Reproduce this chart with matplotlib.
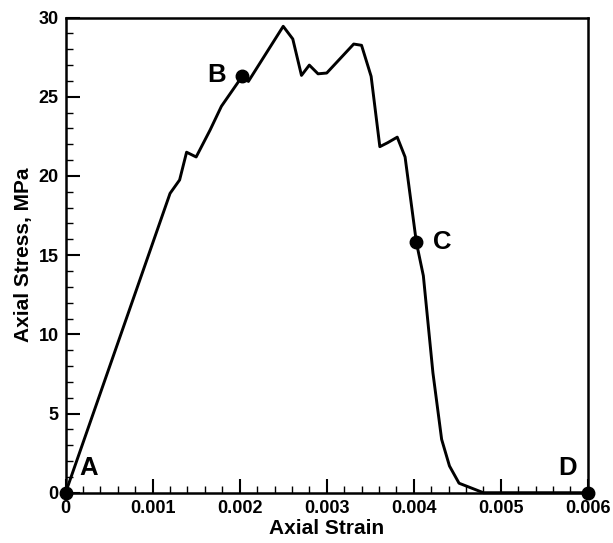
import numpy as np
import matplotlib
matplotlib.use('Agg')
import matplotlib.pyplot as plt
from matplotlib.ticker import MultipleLocator, FuncFormatter

# stress-strain curve
strain = [0, 0.0012, 0.00131, 0.00139, 0.0015, 0.00166, 0.00179, 0.00203, 0.0021,
          0.0025, 0.00261, 0.00271, 0.0028, 0.0029, 0.003, 0.00331, 0.0034, 0.00351,
          0.00361, 0.0037, 0.00381, 0.0039, 0.00403, 0.00411, 0.00422, 0.00432,
          0.00441, 0.00452, 0.0048, 0.006]
stress = [0, 18.9, 19.75, 21.5, 21.2, 22.9, 24.4, 26.3, 25.97,
          29.45, 28.65, 26.35, 27.0, 26.45, 26.5, 28.33, 28.25, 26.29,
          21.85, 22.1, 22.45, 21.2, 15.8, 13.7, 7.57, 3.37,
          1.69, 0.6, 0, 0]

# marked states
pt_names = ['A', 'B', 'C', 'D']
pt_strain = [0, 0.00203, 0.00403, 0.006]
pt_stress = [0, 26.3, 15.8, 0]

plt.rcParams['font.family'] = ['Liberation Sans', 'DejaVu Sans']
plt.rcParams['font.weight'] = 'bold'

fig = plt.figure(figsize=(6.13, 5.43), dpi=100)
ax = fig.add_axes([0.107, 0.0926, 0.852, 0.875])

ax.plot(strain, stress, color='black', lw=2.1, clip_on=False, zorder=3)
ax.plot(pt_strain, pt_stress, 'o', color='black', ms=9, clip_on=False, zorder=4)

# letter labels next to the points
offs = {'A': (10, 9, 'left'), 'B': (-12, 1, 'right'), 'C': (12, 0, 'left'), 'D': (-8, 9, 'right')}
for n, x, y in zip(pt_names, pt_strain, pt_stress):
    dx, dy, ha = offs[n]
    ax.annotate(n, (x, y), xytext=(dx, dy), textcoords='offset points',
                ha=ha, va='center' if dy < 5 else 'bottom',
                fontsize=18.5, fontweight='bold')

ax.set_xlim(0, 0.006)
ax.set_ylim(0, 30)
ax.xaxis.set_major_locator(MultipleLocator(0.001))
ax.xaxis.set_minor_locator(MultipleLocator(0.0002))
ax.yaxis.set_major_locator(MultipleLocator(5))
ax.yaxis.set_minor_locator(MultipleLocator(1))
ax.xaxis.set_major_formatter(FuncFormatter(lambda v, p: '0' if v == 0 else '%g' % round(v, 4)))

ax.tick_params(which='major', direction='in', length=10, width=1.5, labelsize=13, pad=5)
ax.tick_params(which='minor', direction='in', length=5, width=1.0)
ax.tick_params(top=False, right=False)
for s in ax.spines.values():
    s.set_linewidth(1.8)
for lab in ax.get_xticklabels() + ax.get_yticklabels():
    lab.set_fontweight('bold')

ax.set_xlabel('Axial Strain', fontsize=15, fontweight='bold', labelpad=2)
ax.set_ylabel('Axial Stress, MPa', fontsize=15, fontweight='bold', labelpad=4)

fig.savefig('out.png', dpi=100)
